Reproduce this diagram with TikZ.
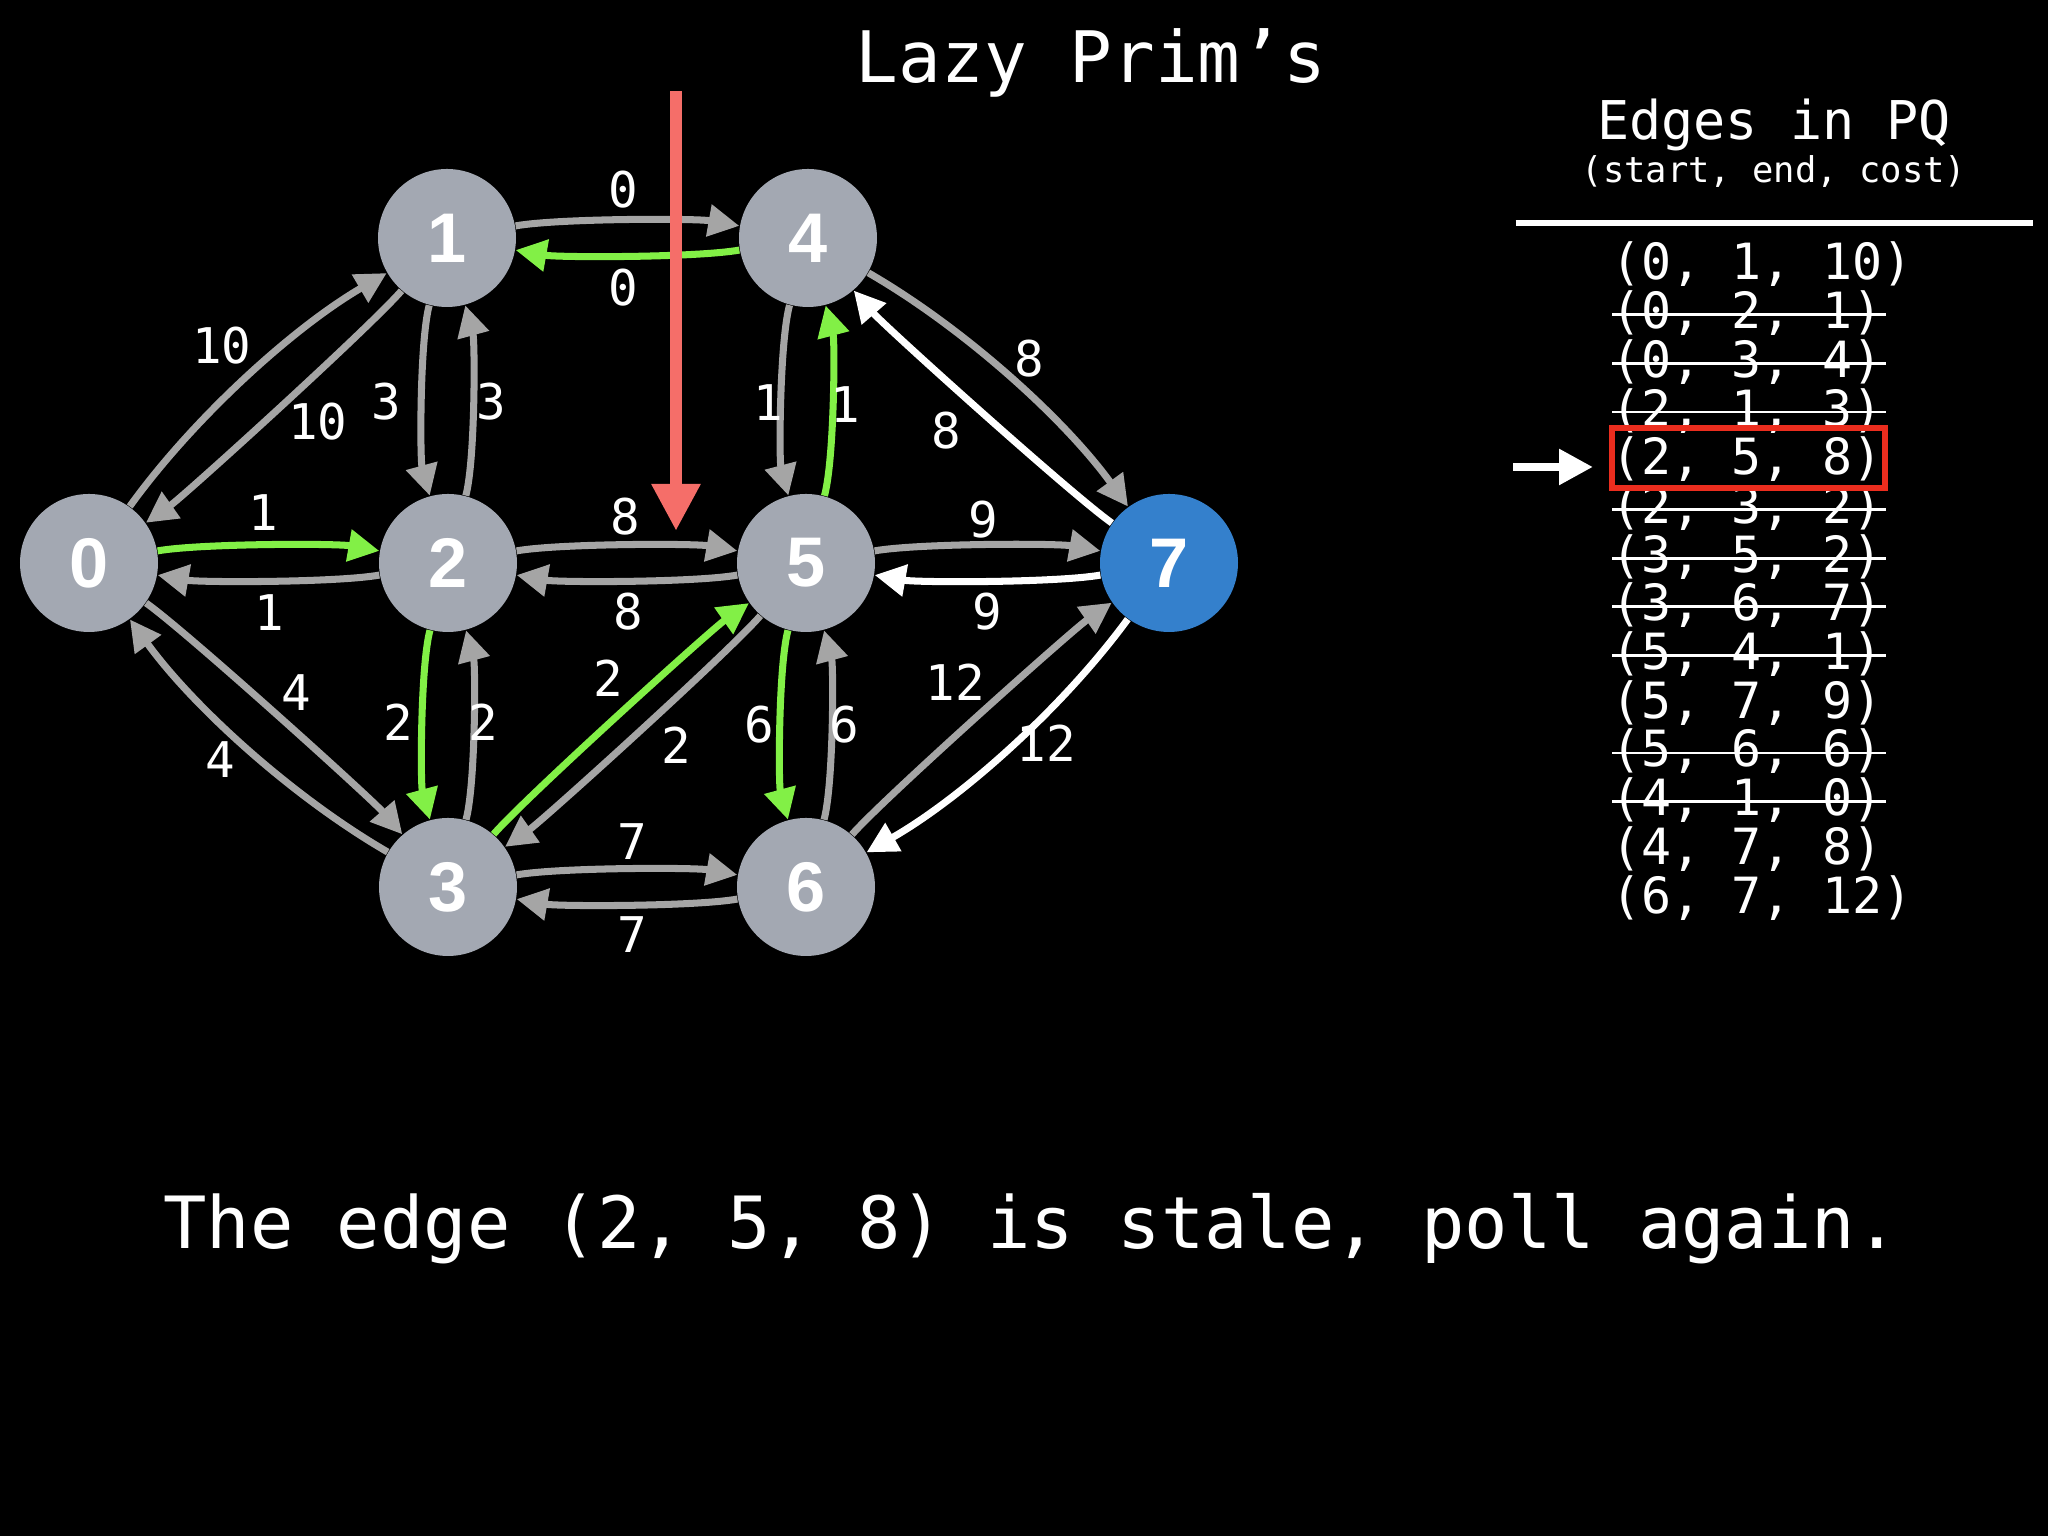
\documentclass[tikz,border=0pt]{standalone}
\usepackage{fontspec}
\setsansfont{Liberation Sans}
\setmonofont{DejaVu Sans Mono}
\usetikzlibrary{arrows.meta}
\definecolor{nodeGray}{RGB}{163,168,178}
\definecolor{nodeBlue}{RGB}{52,128,204}
\definecolor{edgeGray}{RGB}{165,165,165}
\definecolor{edgeGreen}{RGB}{130,240,70}
\definecolor{arrowRed}{RGB}{245,110,105}
\definecolor{boxRed}{RGB}{235,45,30}
\newcommand\numfont{\sffamily\bfseries\fontsize{20}{24}\selectfont}
\newcommand\labfont{\ttfamily\fontsize{14}{16}\selectfont}
\newcommand\pqfont{\ttfamily\fontsize{14.2}{14}\selectfont}

\begin{document}
\frenchspacing
\begin{tikzpicture}[
    vert/.style={circle, fill=nodeGray, minimum size=1.38cm, inner sep=0pt, text=white, font=\numfont},
    wlab/.style={text=white, font=\labfont, inner sep=0pt},
    link/.style={line width=2pt, -{Triangle[length=0.31cm, width=0.31cm]}},
    pqrow/.style={text=white, font=\pqfont, inner sep=0pt, anchor=base west},
    strikeout/.style={white, line width=0.8pt}]
  \useasboundingbox (0,0) rectangle (20.48,15.36);
  \fill[black] (0,0) rectangle (20.48,15.36);

  \node[text=white, font=\ttfamily\fontsize{20.2}{24}\selectfont, anchor=base] (title) at (10.91,14.53) {Lazy Prim’s};

  \node[vert] (n0) at (0.89,9.73) {0};
  \node[vert] (n1) at (4.47,12.98) {1};
  \node[vert] (n2) at (4.48,9.73) {2};
  \node[vert] (n3) at (4.48,6.49) {3};
  \node[vert] (n4) at (8.08,12.98) {4};
  \node[vert] (n5) at (8.06,9.73) {5};
  \node[vert] (n6) at (8.06,6.49) {6};
  \node[vert, fill=nodeBlue] (n7) at (11.69,9.73) {7};

  % horizontal pairs
  \foreach \a/\b/\c in {0/2/edgeGreen, 2/0/edgeGray, 1/4/edgeGray, 4/1/edgeGreen, 2/5/edgeGray, 5/2/edgeGray,
      3/6/edgeGray, 6/3/edgeGray, 5/7/edgeGray, 7/5/white}
    \draw[link, color=\c] (n\a) to[bend left=10, looseness=0.5] (n\b);
  % diagonals, outer and inner
  \foreach \a/\b/\c in {0/1/edgeGray, 3/0/edgeGray, 4/7/edgeGray, 7/6/white}
    \draw[link, color=\c] (n\a) to[bend left=12, looseness=0.8] (n\b);
  \foreach \a/\b/\c in {1/0/edgeGray, 0/3/edgeGray, 7/4/white, 6/7/edgeGray, 3/5/edgeGreen, 5/3/edgeGray}
    \draw[link, color=\c] (n\a) to[bend left=7, looseness=0.35] (n\b);
  % vertical pairs
  \foreach \a/\b/\c in {1/2/edgeGray, 2/1/edgeGray, 2/3/edgeGreen, 3/2/edgeGray,
      4/5/edgeGray, 5/4/edgeGreen, 5/6/edgeGreen, 6/5/edgeGray}
    \draw[link, color=\c] (n\a) to[bend right=15, looseness=0.5] (n\b);

  \foreach \nm/\x/\y/\t in {01/2.22/11.90/10, 10/3.18/11.14/10, 02/2.63/10.23/1, 20/2.69/9.23/1,
      03/2.96/8.43/4, 30/2.20/7.76/4, 14/6.23/13.46/0, 41/6.23/12.48/0, 12/3.86/11.34/3, 21/4.91/11.34/3,
      25/6.25/10.19/8, 52/6.28/9.24/8, 23/3.98/8.14/2, 32/4.83/8.14/2, 35/6.08/8.58/2, 53/6.76/7.91/2,
      36/6.32/6.94/7, 63/6.32/6.01/7, 45/7.68/11.33/1, 54/8.45/11.31/1, 47/10.29/11.77/8, 74/9.46/11.05/8,
      57/9.83/10.16/9, 75/9.87/9.24/9, 56/7.59/8.11/6, 65/8.44/8.11/6, 67/9.55/8.54/12, 76/10.46/7.93/12}
    \node[wlab] (w\nm) at (\x,\y) {\t};

  \coordinate (ptop) at (6.76,14.45);
  \coordinate (pbot) at (6.76,10.05);
  \draw[arrowRed, line width=3.4pt, -{Triangle[length=0.47cm, width=0.46cm]}] (ptop) -- (pbot);

  \node[text=white, font=\ttfamily\fontsize{15.2}{18}\selectfont, anchor=base] (pqhead) at (17.74,13.96) {Edges in PQ};
  \node[text=white, font=\ttfamily\fontsize{10.1}{12}\selectfont, anchor=base] (pqsub) at (17.74,13.53) {(start, end, cost)};
  \coordinate (rulel) at (15.155,13.13);
  \coordinate (ruler) at (20.325,13.13);
  \draw[white, line width=1.7pt] (rulel) -- (ruler);

  \foreach \t/\s [count=\i] in {{(0, 1, 10)}/0, {(0, 2, 1)}/1, {(0, 3, 4)}/1, {(2, 1, 3)}/1, {(2, 5, 8)}/0,
      {(2, 3, 2)}/1, {(3, 5, 2)}/1, {(3, 6, 7)}/1, {(5, 4, 1)}/1, {(5, 7, 9)}/0, {(5, 6, 6)}/1,
      {(4, 1, 0)}/1, {(4, 7, 8)}/0, {(6, 7, 12)}/0}
  {
    \node[pqrow] (r\i) at (16.11,{12.56-(\i-1)*0.487}) {\t};
    \ifnum\s=1
      \draw[strikeout] ([shift={(0.01,0.14)}]r\i.base west) -- ([shift={(0.03,0.14)}]r\i.base east);
    \fi
  }
  \node[draw=boxRed, line width=1.7pt, minimum width=2.73cm, minimum height=0.60cm] (sel) at (17.485,10.78) {};
  \coordinate (ptr) at (15.13,10.69);
  \draw[white, line width=2.5pt, -{Triangle[length=0.34cm, width=0.34cm]}, shorten >=0.16cm] (ptr) -- (ptr -| sel.west);

  \node[text=white, font=\ttfamily\fontsize{20.5}{24}\selectfont, anchor=base] (msg) at (10.31,2.87) {The edge (2, 5, 8) is stale, poll again.};
\end{tikzpicture}
\end{document}
